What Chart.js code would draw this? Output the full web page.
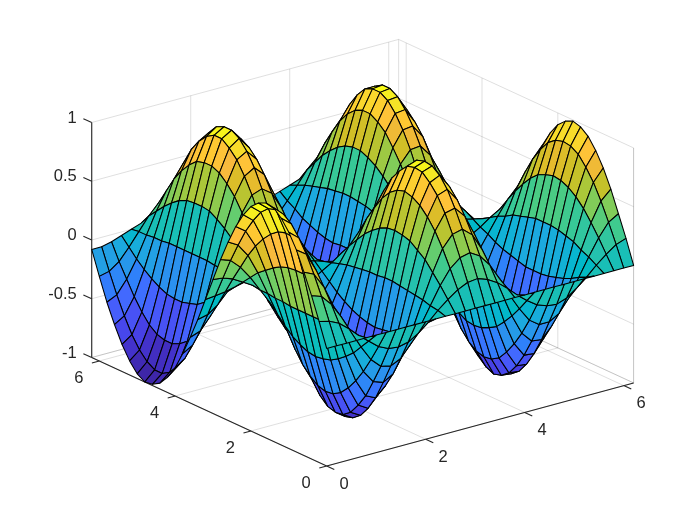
<!DOCTYPE html>
<html><head><meta charset="utf-8">
<style>html,body{margin:0;padding:0;background:#fff}canvas{display:block}</style>
<script src="https://cdn.jsdelivr.net/npm/chart.js@4"></script>
</head><body><canvas id="c" width="700" height="525"></canvas>
<script>
const xValues=[0,.2,.4,.6,.8,1,1.2,1.4,1.6,1.8,2,2.2,2.4,2.6,2.8,3,3.2,3.4,3.6,3.8,4,4.2,4.4,4.6,4.8,5,5.2,5.4,5.6,5.8,6,6.2];
const yValues=[0,.2,.4,.6,.8,1,1.2,1.4,1.6,1.8,2,2.2,2.4,2.6,2.8,3,3.2,3.4,3.6,3.8,4,4.2,4.4,4.6,4.8,5,5.2,5.4,5.6,5.8,6,6.2];
const zRows=[
[0,0,0,0,0,0,0,0,0,0,0,0,0,0,0,0,0,0,0,0,0,0,0,0,0,0,0,0,0,0,0,0],
[.20,.18,.14,.07,-.01,-.08,-.15,-.19,-.20,-.18,-.13,-.06,.02,.09,.15,.19,.20,.17,.12,.05,-.03,-.10,-.16,-.19,-.20,-.17,-.11,-.04,.04,.11,.17,.20],
[.39,.36,.27,.14,-.01,-.16,-.29,-.37,-.39,-.35,-.25,-.12,.03,.18,.30,.37,.39,.34,.24,.10,-.06,-.20,-.32,-.38,-.38,-.33,-.22,-.07,.08,.22,.33,.38],
[.56,.52,.39,.20,-.02,-.24,-.42,-.53,-.56,-.51,-.37,-.17,.05,.26,.44,.54,.56,.49,.34,.14,-.08,-.29,-.46,-.55,-.56,-.47,-.31,-.11,.11,.32,.48,.56],
[.72,.66,.50,.26,-.02,-.30,-.53,-.68,-.72,-.64,-.47,-.22,.06,.34,.56,.69,.71,.62,.44,.18,-.10,-.37,-.58,-.70,-.71,-.60,-.40,-.14,.15,.41,.61,.71],
[.84,.77,.59,.30,-.02,-.35,-.62,-.79,-.84,-.75,-.55,-.26,.07,.39,.65,.81,.84,.73,.51,.21,-.12,-.44,-.68,-.82,-.83,-.71,-.47,-.16,.17,.48,.71,.83],
[.93,.86,.65,.34,-.03,-.39,-.69,-.88,-.93,-.84,-.61,-.29,.08,.44,.72,.89,.93,.81,.57,.23,-.14,-.48,-.76,-.91,-.92,-.78,-.52,-.18,.19,.53,.79,.92],
[.99,.91,.69,.36,-.03,-.41,-.73,-.93,-.98,-.88,-.64,-.30,.09,.46,.76,.95,.98,.86,.60,.24,-.14,-.51,-.80,-.96,-.97,-.83,-.55,-.19,.20,.56,.83,.97],
[1,.92,.70,.36,-.03,-.42,-.74,-.94,-1,-.90,-.65,-.31,.09,.47,.78,.96,.99,.87,.61,.25,-.15,-.52,-.81,-.98,-.99,-.84,-.56,-.19,.20,.57,.84,.99],
[.97,.90,.68,.35,-.03,-.41,-.72,-.92,-.97,-.87,-.64,-.30,.08,.46,.76,.94,.97,.85,.59,.24,-.14,-.51,-.79,-.95,-.96,-.82,-.54,-.19,.20,.55,.82,.96],
[.91,.84,.63,.33,-.03,-.38,-.67,-.86,-.91,-.82,-.59,-.28,.08,.43,.71,.87,.90,.79,.55,.22,-.13,-.47,-.74,-.89,-.90,-.76,-.51,-.17,.18,.52,.77,.90],
[.81,.74,.56,.29,-.02,-.34,-.60,-.76,-.81,-.72,-.53,-.25,.07,.38,.63,.78,.80,.70,.49,.20,-.12,-.42,-.66,-.79,-.80,-.68,-.45,-.15,.16,.46,.68,.80],
[.68,.62,.47,.24,-.02,-.28,-.50,-.64,-.67,-.61,-.44,-.21,.06,.32,.52,.65,.67,.59,.41,.17,-.10,-.35,-.55,-.66,-.67,-.57,-.38,-.13,.14,.38,.57,.67],
[.52,.47,.36,.19,-.01,-.21,-.38,-.49,-.52,-.46,-.34,-.16,.05,.24,.40,.50,.51,.45,.31,.13,-.08,-.27,-.42,-.50,-.51,-.43,-.29,-.10,.10,.29,.43,.51],
[.34,.31,.23,.12,-.01,-.14,-.25,-.32,-.34,-.30,-.22,-.10,.03,.16,.26,.32,.33,.29,.20,.08,-.05,-.17,-.27,-.33,-.33,-.28,-.19,-.06,.07,.19,.28,.33],
[.14,.13,.10,.05,0,-.06,-.10,-.13,-.14,-.13,-.09,-.04,.01,.07,.11,.14,.14,.12,.09,.04,-.02,-.07,-.11,-.14,-.14,-.12,-.08,-.03,.03,.08,.12,.14],
[-.06,-.05,-.04,-.02,0,.02,.04,.05,.06,.05,.04,.02,-.01,-.03,-.05,-.06,-.06,-.05,-.04,-.01,.01,.03,.05,.06,.06,.05,.03,.01,-.01,-.03,-.05,-.06],
[-.26,-.24,-.18,-.09,.01,.11,.19,.24,.26,.23,.17,.08,-.02,-.12,-.20,-.25,-.25,-.22,-.16,-.06,.04,.13,.21,.25,.25,.21,.14,.05,-.05,-.15,-.22,-.25],
[-.44,-.41,-.31,-.16,.01,.18,.33,.42,.44,.40,.29,.14,-.04,-.21,-.34,-.43,-.44,-.39,-.27,-.11,.06,.23,.36,.43,.44,.37,.25,.08,-.09,-.25,-.37,-.44],
[-.61,-.56,-.43,-.22,.02,.25,.45,.58,.61,.55,.40,.19,-.05,-.29,-.47,-.59,-.61,-.53,-.37,-.15,.09,.32,.50,.60,.61,.51,.34,.12,-.12,-.35,-.52,-.60],
[-.76,-.70,-.53,-.27,.02,.31,.56,.71,.76,.68,.49,.23,-.07,-.36,-.59,-.73,-.75,-.66,-.46,-.19,.11,.39,.61,.74,.75,.64,.42,.14,-.15,-.43,-.64,-.75],
[-.87,-.80,-.61,-.32,.03,.36,.64,.82,.87,.78,.57,.27,-.08,-.41,-.68,-.84,-.86,-.76,-.53,-.21,.13,.45,.71,.85,.86,.73,.49,.17,-.17,-.50,-.73,-.86],
[-.95,-.88,-.66,-.34,.03,.40,.70,.89,.95,.85,.62,.29,-.08,-.45,-.74,-.91,-.95,-.83,-.58,-.24,.14,.49,.77,.93,.94,.80,.53,.18,-.19,-.54,-.80,-.94],
[-.99,-.92,-.69,-.36,.03,.41,.73,.94,.99,.89,.65,.31,-.09,-.47,-.77,-.95,-.99,-.86,-.60,-.24,.15,.52,.81,.97,.98,.83,.56,.19,-.20,-.57,-.83,-.98],
[-1,-.92,-.69,-.36,.03,.41,.73,.94,.99,.89,.65,.31,-.09,-.47,-.77,-.96,-.99,-.87,-.61,-.25,.15,.52,.81,.97,.98,.84,.56,.19,-.20,-.57,-.84,-.98],
[-.96,-.88,-.67,-.35,.03,.40,.71,.90,.96,.86,.63,.29,-.08,-.45,-.74,-.92,-.95,-.83,-.58,-.24,.14,.50,.78,.94,.94,.80,.53,.18,-.19,-.54,-.81,-.95],
[-.88,-.81,-.62,-.32,.03,.37,.65,.83,.88,.79,.58,.27,-.08,-.41,-.69,-.85,-.88,-.77,-.54,-.22,.13,.46,.72,.86,.87,.74,.49,.17,-.18,-.50,-.74,-.87],
[-.77,-.71,-.54,-.28,.02,.32,.57,.73,.77,.69,.51,.24,-.07,-.36,-.60,-.74,-.77,-.67,-.47,-.19,.11,.40,.63,.75,.76,.65,.43,.15,-.15,-.44,-.65,-.76],
[-.63,-.58,-.44,-.23,.02,.26,.47,.59,.63,.57,.41,.19,-.05,-.30,-.49,-.61,-.63,-.55,-.38,-.16,.09,.33,.51,.61,.62,.53,.35,.12,-.13,-.36,-.53,-.62],
[-.47,-.43,-.32,-.17,.01,.19,.34,.44,.46,.42,.30,.14,-.04,-.22,-.36,-.45,-.46,-.40,-.28,-.11,.07,.24,.38,.45,.46,.39,.26,.09,-.09,-.27,-.39,-.46],
[-.28,-.26,-.20,-.10,.01,.12,.21,.26,.28,.25,.18,.09,-.02,-.13,-.22,-.27,-.28,-.24,-.17,-.07,.04,.15,.23,.27,.28,.23,.16,.05,-.06,-.16,-.23,-.28],
[-.08,-.08,-.06,-.03,0,.03,.06,.08,.08,.07,.05,.03,-.01,-.04,-.06,-.08,-.08,-.07,-.05,-.02,.01,.04,.07,.08,.08,.07,.05,.02,-.02,-.05,-.07,-.08]
];
const xTicks=[0,2,4,6];
const yTicks=[0,2,4,6];
const zTicks=[-1,-0.5,0,0.5,1];
const xTickLabels=['0','2','4','6'];
const yTickLabels=['0','2','4','6'];
const zTickLabels=['-1','-0.5','0','0.5','1'];
const xLim=[0,6.2], yLim=[0,6.2], zLim=[-1,1];

const parula=[[.2422,.1504,.6603],[.2504,.1650,.7076],[.2578,.1818,.7511],[.2647,.1978,.7952],[.2706,.2147,.8364],[.2751,.2342,.8710],[.2783,.2559,.8991],[.2803,.2782,.9221],[.2813,.3006,.9414],[.2810,.3228,.9579],[.2795,.3447,.9717],[.2760,.3667,.9829],[.2699,.3892,.9906],[.2602,.4123,.9952],[.2440,.4358,.9988],[.2206,.4603,.9973],[.1963,.4847,.9892],[.1834,.5074,.9798],[.1786,.5289,.9682],[.1764,.5499,.9520],[.1687,.5703,.9359],[.1540,.5902,.9218],[.1460,.6091,.9079],[.1380,.6276,.8973],[.1248,.6459,.8883],[.1113,.6635,.8763],[.0952,.6798,.8598],[.0689,.6948,.8394],[.0297,.7082,.8163],[.0036,.7203,.7917],[.0067,.7312,.7660],[.0433,.7411,.7394],[.0964,.7500,.7120],[.1408,.7584,.6842],[.1717,.7670,.6554],[.1938,.7758,.6251],[.2161,.7843,.5923],[.2470,.7918,.5567],[.2906,.7973,.5188],[.3406,.8008,.4789],[.3909,.8029,.4354],[.4456,.8024,.3909],[.5044,.7993,.3480],[.5616,.7942,.3045],[.6174,.7876,.2612],[.6720,.7793,.2227],[.7242,.7698,.1910],[.7738,.7598,.1646],[.8203,.7498,.1535],[.8634,.7406,.1596],[.9035,.7330,.1774],[.9393,.7288,.2100],[.9728,.7298,.2394],[.9956,.7434,.2371],[.9970,.7659,.2199],[.9952,.7861,.1967],[.9892,.8135,.1885],[.9786,.8386,.1766],[.9676,.8639,.1643],[.9610,.8890,.1537],[.9597,.9135,.1423],[.9628,.9373,.1265],[.9691,.9606,.1064],[.9769,.9839,.0805]];

// orthographic view of the box, fitted to the reference
const view={ox:326.7,oy:466,xx:49.5,xy:-13.4,yx:-37.9,yy:-17.5,zy:-117.5};
function P(x,y,z){return {x:view.ox+x*view.xx+y*view.yx,y:view.oy+x*view.xy+y*view.yy+(z-zLim[0])*view.zy};}
function colorOf(z){
  const k=Math.min(63,Math.max(0,Math.floor((z-zLim[0])/(zLim[1]-zLim[0])*64)));
  const c=parula[k];
  return `rgb(${Math.round(c[0]*255)},${Math.round(c[1]*255)},${Math.round(c[2]*255)})`;
}
const datasets=[];
// surface: nearest cell first; Chart.js paints the last dataset first
for(let j=0;j<yValues.length-1;j++){
  for(let i=0;i<xValues.length-1;i++){
    const pts=[P(xValues[i],yValues[j],zRows[j][i]),P(xValues[i+1],yValues[j],zRows[j][i+1]),P(xValues[i+1],yValues[j+1],zRows[j+1][i+1]),P(xValues[i],yValues[j+1],zRows[j+1][i]),P(xValues[i],yValues[j],zRows[j][i])];
    datasets.push({data:pts,showLine:true,fill:'shape',backgroundColor:colorOf(zRows[j][i]),borderColor:'#000',borderWidth:1.05,borderJoinStyle:'round',pointRadius:0,tension:0});
  }
}
function seg(a,b,color,w){datasets.push({data:[a,b],showLine:true,fill:false,borderColor:color,borderWidth:w,pointRadius:0});}
const AX='#262626',GR='rgba(38,38,38,0.15)';
const x0=xLim[0],x1=xLim[1],y0=yLim[0],y1=yLim[1],z0=zLim[0],z1=zLim[1];
// axis lines and ticks
seg(P(x0,y0,z0),P(x1,y0,z0),AX,1.1);
seg(P(x0,y0,z0),P(x0,y1,z0),AX,1.1);
seg(P(x0,y1,z0),P(x0,y1,z1),AX,1.1);
xTicks.forEach(t=>seg(P(t,y0,z0),P(t,y0-0.2,z0),AX,1.1));
yTicks.forEach(t=>seg(P(x0,t,z0),P(x0-0.15,t,z0),AX,1.1));
zTicks.forEach(t=>seg(P(x0,y1,t),P(x0,y1+0.22,t),AX,1.1));
// grid on floor and back walls, plus box edges
xTicks.forEach(t=>{seg(P(t,y0,z0),P(t,y1,z0),GR,1);seg(P(t,y1,z0),P(t,y1,z1),GR,1);});
yTicks.forEach(t=>{seg(P(x0,t,z0),P(x1,t,z0),GR,1);seg(P(x1,t,z0),P(x1,t,z1),GR,1);});
zTicks.forEach(t=>{seg(P(x0,y1,t),P(x1,y1,t),GR,1);seg(P(x1,y1,t),P(x1,y0,t),GR,1);});
seg(P(x1,y1,z0),P(x1,y1,z1),GR,1);
seg(P(x1,y0,z0),P(x1,y0,z1),GR,1);
seg(P(x0,y1,z0),P(x1,y1,z0),GR,1);
seg(P(x1,y1,z0),P(x1,y0,z0),GR,1);

const tickText={id:'tickText',afterDraw(chart){
  const g=chart.ctx,sx=chart.scales.x,sy=chart.scales.y;
  g.save();g.fillStyle='#262626';g.font='16.5px "Liberation Sans", Arial, sans-serif';g.textBaseline='middle';
  const put=(p,dx,dy,s,al)=>{g.textAlign=al;g.fillText(s,sx.getPixelForValue(p.x)+dx,sy.getPixelForValue(p.y)+dy);};
  xTicks.forEach((t,i)=>put(P(t,y0,z0),17.5,18,xTickLabels[i],'center'));
  yTicks.forEach((t,i)=>put(P(x0,t,z0),-20.5,17,yTickLabels[i],'center'));
  zTicks.forEach((t,i)=>put(P(x0,y1,t),-15,-4.5,zTickLabels[i],'right'));
  g.restore();
}};
new Chart(document.getElementById('c'),{
  type:'scatter',
  data:{datasets},
  plugins:[tickText],
  options:{responsive:false,animation:false,events:[],devicePixelRatio:1,
    layout:{padding:0},
    plugins:{legend:{display:false},tooltip:{enabled:false},title:{display:false}},
    scales:{x:{type:'linear',min:0,max:700,display:false},y:{type:'linear',min:0,max:525,reverse:true,display:false}}
  }
});
</script></body></html>
